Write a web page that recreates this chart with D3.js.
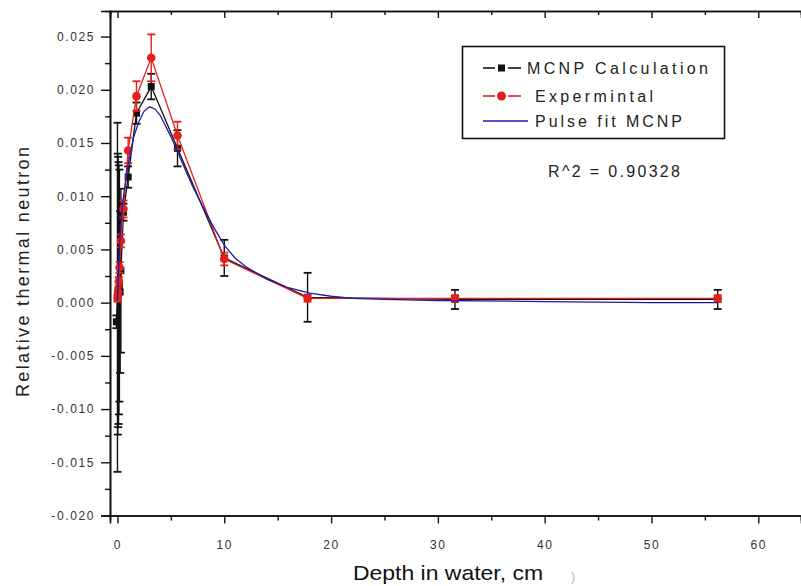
<!DOCTYPE html>
<html>
<head>
<meta charset="utf-8">
<script src="https://cdn.jsdelivr.net/npm/d3@7"></script>
<style>
  html, body { margin: 0; padding: 0; background: #fff; }
  svg { display: block; }
</style>
</head>
<body>
<svg id="chart" width="801" height="586"></svg>
<script>
// ---------------- DATA ----------------
const mcnpDepth = [-0.1, 0, 0.03, 0.06, 0.1, 0.13, 0.18, 0.25, 0.32, 0.56, 1.0, 1.78, 3.16, 5.62, 10, 17.8, 31.6, 56.2];
const mcnpValue = [-0.0018, 0.0005, 0.0008, 0.0010, 0.0009, 0.0012, 0.0016, 0.0010, 0.0030, 0.0085, 0.0118, 0.0178, 0.0203, 0.0145, 0.0042, 0.0005, 0.0003, 0.0003];
const mcnpError = [0.0006, 0.0164, 0.0132, 0.0127, 0.0123, 0.0117, 0.0109, 0.0076, 0.0077, 0.0008, 0.0010, 0.0010, 0.0012, 0.0017, 0.0017, 0.0023, 0.0009, 0.0009];

const expDepth = [0, 0.06, 0.13, 0.2, 0.32, 0.56, 1.0, 1.78, 3.16, 5.62, 10, 17.8, 31.6, 56.2];
const expValue = [0.0004, 0.0010, 0.0020, 0.0033, 0.0058, 0.0088, 0.0143, 0.0194, 0.0230, 0.0157, 0.0041, 0.0004, 0.0004, 0.0004];
const expError = [0.0003, 0.0004, 0.0004, 0.0005, 0.0006, 0.0008, 0.0012, 0.0014, 0.0022, 0.0013, 0.0006, 0.0003, 0.0003, 0.0003];

const fitDepth = [0, 0.1, 0.2, 0.3, 0.5, 0.7, 1, 1.5, 2, 2.5, 3, 3.5, 4, 5, 6, 7, 8, 9, 10, 11, 12, 14, 16, 18, 20, 22, 25, 30, 40, 50, 56.2];
const fitValue = [0.0002, 0.0030, 0.0055, 0.0072, 0.0095, 0.0110, 0.0130, 0.0155, 0.0170, 0.0180, 0.0184, 0.0182, 0.0176, 0.0156, 0.0133, 0.0110, 0.0090, 0.0071, 0.0054, 0.0042, 0.0034, 0.0022, 0.0014, 0.0009, 0.0006, 0.0004, 0.0003, 0.0002, 0.0001, 0.0000, 0.0000];

const xTicks = [0, 10, 20, 30, 40, 50, 60];
const xMinorTicks = [5, 15, 25, 35, 45, 55];
const yTicks = [-0.020, -0.015, -0.010, -0.005, 0.000, 0.005, 0.010, 0.015, 0.020, 0.025];
const yMinorTicks = [-0.0175, -0.0125, -0.0075, -0.0025, 0.0025, 0.0075, 0.0125, 0.0175, 0.0225];

const legendLabels = ["MCNP Calculation", "Expermintal", "Pulse fit MCNP"];
const fitLabel = "R^2 = 0.90328";
const xTitle = "Depth in water, cm";
const yTitle = "Relative thermal neutron";

// ---------------- LAYOUT ----------------
const svg = d3.select("#chart");
const plotLeft = 110, plotRight = 801, plotTop = 11, plotBottom = 515.5;
const x = d3.scaleLinear().domain([-0.7, 64]).range([plotLeft, plotRight]);
const y = d3.scaleLinear().domain([-0.020, 0.0274]).range([plotBottom, plotTop]);

const BLACK = "#111", RED = "#e3201c", BLUE = "#1c1ca8";
const tickFont = "'Liberation Sans', Arial, sans-serif";

// axes
const yAxis = d3.axisLeft(y).tickValues(yTicks).tickSize(9).tickPadding(6)
  .tickFormat(d => d.toFixed(3));
const yAxisMinor = d3.axisLeft(y).tickValues(yMinorTicks).tickSize(5).tickFormat("");
const xAxis = d3.axisBottom(x).tickValues(xTicks).tickSize(8).tickPadding(17)
  .tickFormat(d3.format("d"));
const xAxisMinor = d3.axisBottom(x).tickValues(xMinorTicks).tickSize(5).tickFormat("");
const xTopAxis = d3.axisBottom(x).tickValues(xTicks).tickSize(7).tickFormat("");
const xTopMinor = d3.axisBottom(x).tickValues(xMinorTicks).tickSize(4).tickFormat("");

function styleAxis(g) {
  g.selectAll(".domain").attr("stroke", "#111").attr("stroke-width", 1.6);
  g.selectAll(".tick line").attr("stroke", "#111").attr("stroke-width", 1.4);
  g.selectAll(".tick text").attr("fill", "#333")
    .style("font-family", tickFont).style("font-size", "12px")
    .style("letter-spacing", "1.6px");
}

svg.append("g").attr("transform", `translate(${plotLeft},0)`).call(yAxis).call(styleAxis);
svg.append("g").attr("transform", `translate(${plotLeft},0)`).call(yAxisMinor).call(styleAxis);
svg.append("g").attr("transform", `translate(0,${plotBottom})`).call(xAxis).call(styleAxis);
svg.append("g").attr("transform", `translate(0,${plotBottom})`).call(xAxisMinor).call(styleAxis);
svg.append("g").attr("transform", `translate(0,${plotTop})`).call(xTopAxis).call(styleAxis);
svg.append("g").attr("transform", `translate(0,${plotTop})`).call(xTopMinor).call(styleAxis);

// ---------------- SERIES ----------------
const plot = svg.append("g");

function series(depth, value, error, color, opts) {
  const pts = depth.map((d, i) => ({ d, v: value[i], e: error ? error[i] : 0 }));
  const line = d3.line().x(p => x(p.d)).y(p => y(p.v));
  const g = plot.append("g");
  g.append("path").datum(pts).attr("d", line)
    .attr("fill", "none").attr("stroke", color).attr("stroke-width", opts.lw || 1.3);
  if (error) {
    const eb = g.selectAll(".eb").data(pts).enter().append("g");
    eb.append("line").attr("x1", p => x(p.d)).attr("x2", p => x(p.d))
      .attr("y1", p => y(p.v - p.e)).attr("y2", p => y(p.v + p.e))
      .attr("stroke", opts.ebColor || color).attr("stroke-width", 1.4);
    [1, -1].forEach(s => {
      eb.append("line").attr("x1", p => x(p.d) - 4).attr("x2", p => x(p.d) + 4)
        .attr("y1", p => y(p.v + s * p.e)).attr("y2", p => y(p.v + s * p.e))
        .attr("stroke", opts.ebColor || color).attr("stroke-width", 1.8);
    });
  }
  if (opts.marker === "square") {
    g.selectAll(".m").data(pts).enter().append("rect")
      .attr("x", p => x(p.d) - 3.5).attr("y", p => y(p.v) - 3.5)
      .attr("width", 7).attr("height", 7).attr("fill", color);
  } else if (opts.marker === "circle") {
    g.selectAll(".m").data(pts).enter().append("circle")
      .attr("cx", p => x(p.d)).attr("cy", p => y(p.v)).attr("r", 4.3).attr("fill", color);
  }
}

series(mcnpDepth, mcnpValue, mcnpError, BLACK, { marker: "square" });
series(expDepth, expValue, expError, RED, { marker: "circle" });
series(fitDepth, fitValue, null, BLUE, { lw: 1.3 });

// ---------------- LEGEND ----------------
const lg = svg.append("g");
lg.append("rect").attr("x", 462.5).attr("y", 46.5).attr("width", 262).attr("height", 92)
  .attr("fill", "#fff").attr("stroke", "#111").attr("stroke-width", 1.6);

const legendFont = "'Liberation Sans', Arial, sans-serif";
const rows = [
  { label: legendLabels[0], color: BLACK, marker: "square", y: 68, tx: 527, tl: 181 },
  { label: legendLabels[1], color: RED, marker: "circle", y: 96, tx: 535, tl: 118 },
  { label: legendLabels[2], color: BLUE, marker: null, y: 121, tx: 535, tl: 147 }
];
rows.forEach(r => {
  if (r.marker) {
    lg.append("line").attr("x1", 483).attr("x2", 495).attr("y1", r.y).attr("y2", r.y)
      .attr("stroke", r.color).attr("stroke-width", 1.6);
    lg.append("line").attr("x1", 508).attr("x2", 521).attr("y1", r.y).attr("y2", r.y)
      .attr("stroke", r.color).attr("stroke-width", 1.6);
    if (r.marker === "square") {
      lg.append("rect").attr("x", 498).attr("y", r.y - 3.5).attr("width", 7).attr("height", 7).attr("fill", r.color);
    } else {
      lg.append("circle").attr("cx", 501.5).attr("cy", r.y).attr("r", 4.5).attr("fill", r.color);
    }
  } else {
    lg.append("line").attr("x1", 483).attr("x2", 528).attr("y1", r.y).attr("y2", r.y)
      .attr("stroke", r.color).attr("stroke-width", 1.6);
  }
  lg.append("text").attr("x", r.tx).attr("y", r.y + 6)
    .attr("textLength", r.tl).attr("lengthAdjust", "spacing")
    .style("font-family", legendFont).style("font-size", "16px")
    .attr("fill", "#222").text(r.label);
});

svg.append("text").attr("x", 548).attr("y", 177)
  .attr("textLength", 132).attr("lengthAdjust", "spacing")
  .style("font-family", legendFont).style("font-size", "16px")
  .attr("fill", "#222").text(fitLabel);

// ---------------- TITLES ----------------
svg.append("text")
  .attr("transform", "translate(29,272) rotate(-90)")
  .attr("text-anchor", "middle")
  .attr("textLength", 250).attr("lengthAdjust", "spacing")
  .style("font-family", legendFont).style("font-size", "18px")
  .attr("fill", "#222").text(yTitle);

svg.append("text")
  .attr("x", 353).attr("y", 580)
  .attr("textLength", 190).attr("lengthAdjust", "spacingAndGlyphs")
  .style("font-family", "'Liberation Sans Narrow', 'Arial Narrow', 'Liberation Sans', Arial, sans-serif")
  .style("font-size", "21px")
  .attr("fill", "#111").text(xTitle);

svg.append("text").attr("x", 571).attr("y", 581)
  .style("font-family", legendFont).style("font-size", "13px")
  .attr("fill", "#bbb").text(")");
</script>
</body>
</html>
